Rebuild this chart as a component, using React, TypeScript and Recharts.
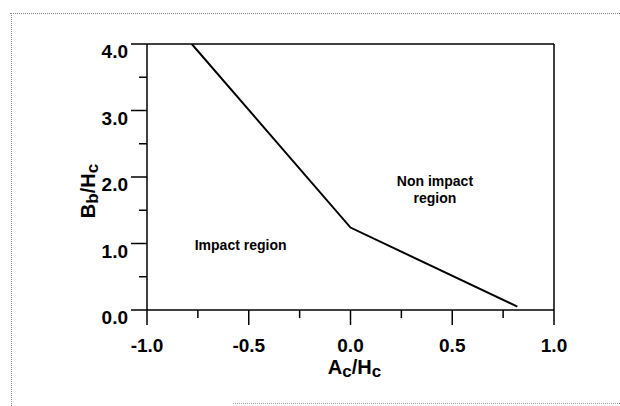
import React from 'react';
import { LineChart, Line, XAxis, YAxis, ReferenceLine, ReferenceDot, Label } from 'recharts';

// Boundary curve between impact and non-impact regions
const xValues = [-0.78, 0.0, 0.82];
const yValues = [4.0, 1.24, 0.05];

const xTicks = [-1.0, -0.75, -0.5, -0.25, 0, 0.25, 0.5, 0.75, 1.0];
const xMajorTicks = [-1.0, -0.5, 0, 0.5, 1.0];
const yTicks = [0, 0.5, 1, 1.5, 2, 2.5, 3, 3.5, 4];
const yMajorTicks = [0, 1, 2, 3, 4];

const regionLabels = [
  { x: -0.54, y: 0.98, text: 'Impact region' },
  { x: 0.415, y: 1.94, text: 'Non impact' },
  { x: 0.415, y: 1.68, text: 'region' },
];

const data = xValues.map((x, i) => ({ x, y: yValues[i] }));

const FONT = '"Liberation Sans", Arial, Helvetica, sans-serif';

const isMajor = (list: number[], v: number) => list.some((m) => Math.abs(m - v) < 1e-9);

const XTick = (props: any) => {
  const { x, y, payload } = props;
  const v = payload.value;
  const major = isMajor(xMajorTicks, v);
  return (
    <g>
      <line x1={x} x2={x} y1={y} y2={y + (major ? 15 : 8)} stroke="#000" strokeWidth={1.5} />
      {major && (
        <text x={x} y={y + 42} textAnchor="middle" fontFamily={FONT} fontWeight="bold" fontSize={19} fill="#000">
          {v.toFixed(1)}
        </text>
      )}
    </g>
  );
};

const YTick = (props: any) => {
  const { x, y, payload } = props;
  const v = payload.value;
  const major = isMajor(yMajorTicks, v);
  return (
    <g>
      <line x1={x} x2={x - (major ? 16 : 8)} y1={y} y2={y} stroke="#000" strokeWidth={1.5} />
      {major && (
        <text x={x - 19} y={y + 14} textAnchor="end" fontFamily={FONT} fontWeight="bold" fontSize={19} fill="#000">
          {v.toFixed(1)}
        </text>
      )}
    </g>
  );
};

const XTitle = (props: any) => {
  const vb = props.viewBox || {};
  const cx = vb.x + vb.width / 2 + 4;
  const y = vb.y + 64;
  return (
    <text x={cx} y={y} textAnchor="middle" fontFamily={FONT} fontWeight="bold" fontSize={20} fill="#000">
      <tspan>A</tspan>
      <tspan fontSize={17} dy={3}>c</tspan>
      <tspan dy={-3}>/H</tspan>
      <tspan fontSize={17} dy={3}>c</tspan>
    </text>
  );
};

const YTitle = (props: any) => {
  const vb = props.viewBox || {};
  const cx = 95;
  const cy = vb.y + vb.height / 2 + 14;
  return (
    <text
      x={cx}
      y={cy}
      transform={`rotate(-90, ${cx}, ${cy})`}
      textAnchor="middle"
      fontFamily={FONT}
      fontWeight="bold"
      fontSize={20}
      fill="#000"
    >
      <tspan>B</tspan>
      <tspan fontSize={17} dy={3}>b</tspan>
      <tspan dy={-3}>/H</tspan>
      <tspan fontSize={17} dy={3}>c</tspan>
    </text>
  );
};

export default function App() {
  return (
    <div style={{ position: 'absolute', left: 0, top: 0, width: 620, height: 406, background: '#fff' }}>
      <div style={{ position: 'absolute', left: 10, top: 13, width: 610, height: 0, borderTop: '1px dotted #8a8a8a' }} />
      <div style={{ position: 'absolute', left: 11, top: 13, width: 0, height: 393, borderLeft: '1px dotted #8a8a8a' }} />
      <div style={{ position: 'absolute', left: 233, top: 403, width: 387, height: 0, borderTop: '1px dotted #9a9a9a' }} />
      <LineChart
        width={620}
        height={406}
        data={data}
        margin={{ top: 44, right: 66, bottom: 36, left: 87 }}
        style={{ fontFamily: FONT }}
      >
        <XAxis
          type="number"
          dataKey="x"
          domain={[-1, 1]}
          ticks={xTicks}
          interval={0}
          height={60}
          tickSize={0}
          tickMargin={0}
          tickLine={false}
          axisLine={{ stroke: '#000', strokeWidth: 1.5 }}
          tick={<XTick />}
          allowDataOverflow
        >
          <Label content={<XTitle />} />
        </XAxis>
        <YAxis
          type="number"
          dataKey="y"
          domain={[0, 4]}
          ticks={yTicks}
          interval={0}
          width={60}
          tickSize={0}
          tickMargin={0}
          tickLine={false}
          axisLine={{ stroke: '#000', strokeWidth: 1.5 }}
          tick={<YTick />}
          allowDataOverflow
        >
          <Label content={<YTitle />} />
        </YAxis>
        <ReferenceLine y={4} stroke="#000" strokeWidth={1.5} />
        <ReferenceLine x={1} stroke="#000" strokeWidth={1.5} />
        {regionLabels.map((r) => (
          <ReferenceDot
            key={r.text}
            x={r.x}
            y={r.y}
            r={1}
            fill="none"
            stroke="none"
            label={{ value: r.text, position: 'center', fontSize: 14, fontWeight: 'bold', fill: '#000', fontFamily: FONT }}
          />
        ))}
        <Line
          type="linear"
          dataKey="y"
          stroke="#000"
          strokeWidth={2}
          dot={false}
          isAnimationActive={false}
        />
      </LineChart>
    </div>
  );
}
